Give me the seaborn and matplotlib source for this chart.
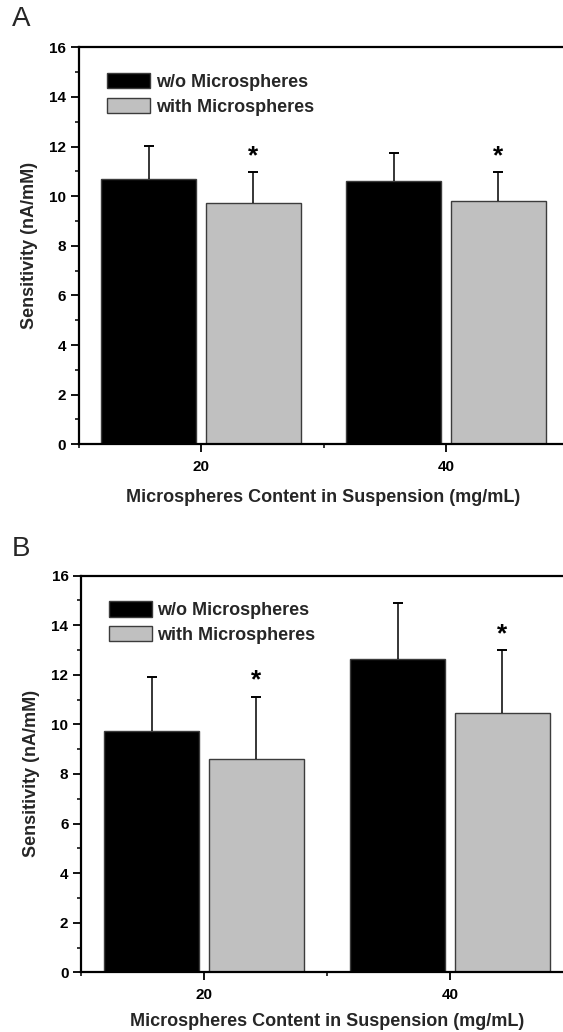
import matplotlib
matplotlib.use("Agg")
import matplotlib.pyplot as plt
import seaborn as sns
import pandas as pd
import numpy as np
from matplotlib.ticker import MultipleLocator, FixedLocator

# ---- data ----
concentrations = ["20", "40"]
groups = ["w/o Microspheres", "with Microspheres"]

a_without = [10.70, 10.62]
a_without_err = [1.32, 1.12]
a_with = [9.72, 9.80]
a_with_err = [1.25, 1.18]

b_without = [9.71, 12.63]
b_without_err = [2.21, 2.28]
b_with = [8.62, 10.47]
b_with_err = [2.50, 2.53]

panel_letters = ["A", "B"]
x_label = "Microspheres Content in Suspension (mg/mL)"
y_label = "Sensitivity (nA/mM)"

sns.set_style("ticks")
plt.rcParams["font.family"] = ["Liberation Sans", "DejaVu Sans"]
plt.rcParams["font.weight"] = "bold"

fig = plt.figure(figsize=(5.63, 10.32), dpi=100)

panels = [
    dict(rect=[78.5 / 563, 1 - 444.3 / 1032, 490 / 563, 397.0 / 1032],
         wo=a_without, wo_err=a_without_err, w=a_with, w_err=a_with_err,
         leg=(0.0590, 0.935), letter_y=1 - 19 / 1032, xpad=11),
    dict(rect=[81 / 563, 1 - 972.3 / 1032, 492 / 563, 396.8 / 1032],
         wo=b_without, wo_err=b_without_err, w=b_with, w_err=b_with_err,
         leg=(0.0569, 0.935), letter_y=1 - 548.5 / 1032, xpad=8),
]

colors = ["#000000", "#c0c0c0"]

for letter, p in zip(panel_letters, panels):
    ax = fig.add_axes(p["rect"])
    df = pd.DataFrame({
        "conc": concentrations * 2,
        "value": list(p["wo"]) + list(p["w"]),
        "group": [groups[0]] * 2 + [groups[1]] * 2,
    })
    sns.barplot(data=df, x="conc", y="value", hue="group", hue_order=groups,
                palette=colors, width=0.85, gap=0.087, edgecolor="#3c3c3c",
                linewidth=1.0, errorbar=None, ax=ax, saturation=1, zorder=2)

    errs = [p["wo_err"], p["w_err"]]
    vals = [p["wo"], p["w"]]
    bar_conts = list(ax.containers)
    for ci, cont in enumerate(bar_conts):
        xs = [bar.get_x() + bar.get_width() / 2 for bar in cont]
        eb = ax.errorbar(xs, vals[ci], yerr=[np.zeros(len(xs)), errs[ci]], fmt="none",
                         ecolor="black", elinewidth=1.1, capsize=3.4, capthick=1.4,
                         zorder=3)
        caplines = eb[1]
        if len(caplines) == 2:
            caplines[0].set_visible(False)
        if ci == 1:
            for x, v, e in zip(xs, vals[ci], errs[ci]):
                ax.text(x, v + e + 0.36, "*", ha="center", va="baseline",
                        fontsize=19, fontweight="bold", color="black")

    ax.set_xlim(-0.5, 1.5)
    ax.set_ylim(0, 16)
    ax.yaxis.set_major_locator(MultipleLocator(2))
    ax.yaxis.set_minor_locator(MultipleLocator(1))
    ax.xaxis.set_minor_locator(FixedLocator([-0.5, 0.5, 1.5]))
    ax.tick_params(axis="both", which="major", direction="out", length=6,
                   width=1.3, labelsize=11, pad=3, colors="black")
    ax.tick_params(axis="x", which="major", pad=5)
    ax.tick_params(axis="both", which="minor", direction="out", length=3, width=1.3)
    for lab in ax.get_xticklabels() + ax.get_yticklabels():
        lab.set_fontweight("bold")
    for side in ["left", "bottom", "top"]:
        ax.spines[side].set_visible(True)
        ax.spines[side].set_linewidth(1.6)
        ax.spines[side].set_color("black")
    ax.spines["right"].set_visible(False)

    ax.set_xlabel(x_label, fontsize=13, fontweight="bold", labelpad=p["xpad"])
    ax.set_ylabel(y_label, fontsize=13, fontweight="bold", labelpad=8)

    handles, labels = ax.get_legend_handles_labels()
    for h, c in zip(handles, colors):
        h.set_facecolor(c)
        h.set_edgecolor("#3c3c3c")
        h.set_linewidth(1.0)
    ax.legend(handles, labels, loc="upper left", bbox_to_anchor=p["leg"],
              frameon=False, borderaxespad=0, borderpad=0,
              handlelength=2.37, handleheight=0.93, handletextpad=0.3,
              labelspacing=0.38, prop={"weight": "bold", "size": 13})

    fig.text(12 / 563, p["letter_y"], letter, fontsize=20, fontweight="normal",
             ha="left", va="center")

fig.savefig("out.png", dpi=100)
